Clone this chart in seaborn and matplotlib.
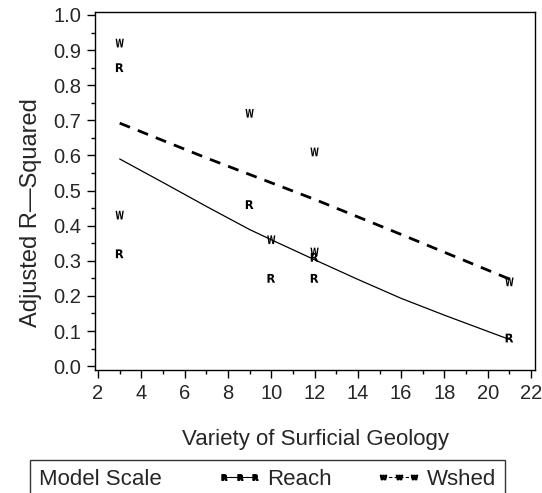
import matplotlib
matplotlib.use("Agg")
import matplotlib.pyplot as plt
import seaborn as sns
import pandas as pd
from matplotlib.lines import Line2D
from matplotlib.markers import MarkerStyle
from matplotlib.transforms import Affine2D
from matplotlib.offsetbox import HPacker

# ---- data ----
reach_x = [3, 3, 9, 10, 12, 12, 21]
reach_y = [0.85, 0.32, 0.46, 0.25, 0.31, 0.25, 0.08]
wshed_x = [3, 3, 9, 10, 12, 12, 21]
wshed_y = [0.92, 0.43, 0.72, 0.36, 0.61, 0.325, 0.24]

reach_fit_x = [3, 5, 7, 9, 10, 12, 14, 16, 18, 21]
reach_fit_y = [0.59, 0.523, 0.455, 0.389, 0.36, 0.303, 0.247, 0.193, 0.145, 0.076]
wshed_fit_x = [3, 7, 12, 16, 21]
wshed_fit_y = [0.692, 0.593, 0.475, 0.375, 0.248]

x_ticks = list(range(2, 23, 2))
y_ticks = [round(0.1 * i, 1) for i in range(11)]

pts = pd.DataFrame({
    "x": reach_x + wshed_x,
    "y": reach_y + wshed_y,
    "scale": ["Reach"] * len(reach_x) + ["Wshed"] * len(wshed_x),
})
fits = pd.DataFrame({
    "x": reach_fit_x + wshed_fit_x,
    "y": reach_fit_y + wshed_fit_y,
    "scale": ["Reach"] * len(reach_fit_x) + ["Wshed"] * len(wshed_fit_x),
})

sns.set_theme(style="ticks")
plt.rcParams["font.family"] = ["Liberation Sans", "DejaVu Sans"]

fig = plt.figure(figsize=(5.42, 4.93), dpi=100)
ax = fig.add_axes([95 / 542, 1 - 370 / 493, 440 / 542, 358 / 493])

sns.lineplot(data=fits, x="x", y="y", style="scale",
             dashes={"Reach": "", "Wshed": (4, 3)},
             hue="scale", palette={"Reach": "black", "Wshed": "black"},
             size="scale", sizes={"Reach": 0.9, "Wshed": 2.0},
             legend=False, ax=ax, estimator=None, sort=True)

r_marker = MarkerStyle(r"$\mathbf{R}$", transform=Affine2D().scale(0.95, 1.0))
w_marker = MarkerStyle(r"$\mathbf{W}$", transform=Affine2D().scale(0.66, 1.0))
sns.scatterplot(data=pts, x="x", y="y", style="scale",
                markers={"Reach": r_marker, "Wshed": w_marker},
                size="scale", sizes={"Reach": 40, "Wshed": 80},
                color="black", linewidth=0, legend=False, ax=ax)

ax.set_xlim(1.86, 22.18)
ax.set_ylim(-0.011, 1.0085)
ax.set_xticks(x_ticks)
ax.set_xticks(range(2, 23), minor=True)
ax.set_yticks(y_ticks)
ax.set_yticks([0.05 * i for i in range(21)], minor=True)
ax.set_yticklabels([f"{v:.1f}" for v in y_ticks])
ax.tick_params(which="major", direction="out", length=6, width=1, labelsize=14.5, color="black", pad=4)
ax.tick_params(which="minor", direction="out", length=3, width=1, color="black")
for s in ax.spines.values():
    s.set_color("black")
    s.set_linewidth(1)
ax.set_xlabel("Variety of Surficial Geology", fontsize=16, labelpad=19)
ax.set_ylabel("Adjusted R\u2014Squared", fontsize=17)
ax.yaxis.set_label_coords(-0.121, 0.441)

handles = [
    Line2D([], [], color="black", lw=0.8, ls="-", marker=r"$\mathbf{R}$", markersize=4),
    Line2D([], [], color="black", lw=0.8, ls=(0, (3, 2)), marker=r"$\mathbf{W}$", markersize=4.5),
]
leg = fig.legend(handles, ["Reach", "Wshed"], title="Model Scale", ncol=2,
                 loc="upper left", bbox_to_anchor=(30 / 542, 1 - 460 / 493),
                 fontsize=16, title_fontsize=16, numpoints=3, handlelength=2.0,
                 handletextpad=0.25, columnspacing=2.0, frameon=True, fancybox=False,
                 borderpad=0.3, edgecolor="black", borderaxespad=0)
fs = 16 * 100 / 72
leg._legend_box = HPacker(pad=leg.borderpad * fs, sep=1.8 * fs, align="center",
                          children=[leg._legend_title_box, leg._legend_handle_box])
leg._legend_box.set_figure(fig)
leg._legend_box.set_offset(leg._findoffset)
leg.get_frame().set_linewidth(1)

fig.savefig("out.png", dpi=100)
